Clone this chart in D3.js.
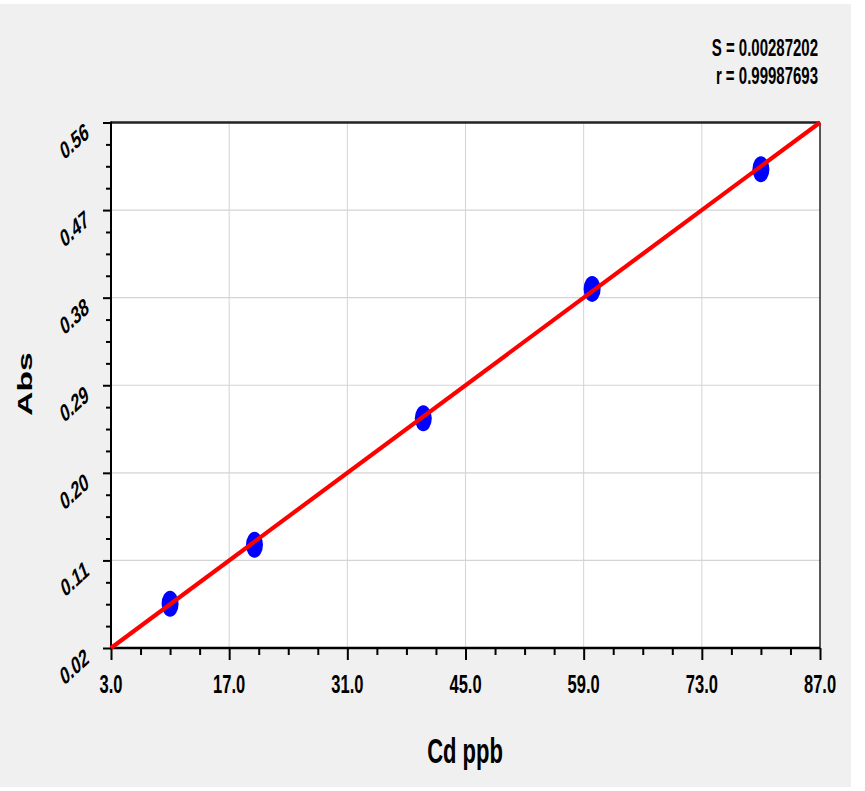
<!DOCTYPE html>
<html>
<head>
<meta charset="utf-8">
<script src="https://cdn.jsdelivr.net/npm/d3@7"></script>
<style>
body { margin: 0; background: #fff; }
text { font-family: "Liberation Sans", Arial, sans-serif; font-weight: bold; }
</style>
</head>
<body>
<script>
// calibration data, Cd standards
var concentrations = [10, 20, 40, 60, 80]
var absorbances = [0.0655, 0.126, 0.256, 0.389, 0.512]
var xTicks = [3, 17, 31, 45, 59, 73, 87]
var yTicks = [0.02, 0.11, 0.20, 0.29, 0.38, 0.47, 0.56]
var fitSlope = 0.0064286
var fitIntercept = 0.000714
var statLines = ["S = 0.00287202", "r = 0.99987693"]

var W = 865, H = 791
var SY = 1.6   // the picture is stretched vertically, text too

var svg = d3.select("body").append("svg")
	.attr("width", W).attr("height", H)

svg.append("rect").attr("x", 0).attr("y", 4).attr("width", 851).attr("height", 783)
	.attr("fill", "#f0f0f0")

// note: "top" is taken by window.top, so plot* names
var plotLeft = 111, plotRight = 820, plotTop = 122.5, plotBottom = 648

var x = d3.scaleLinear().domain([3, 87]).range([plotLeft, plotRight])
var y = d3.scaleLinear().domain([0.02, 0.56]).range([plotBottom, plotTop])

// minor ticks: 3 between each pair of majors
function minors(ticks) {
	var m = []
	for (var i = 0; i < ticks.length - 1; i++) {
		var step = (ticks[i + 1] - ticks[i]) / 4
		for (var j = 1; j < 4; j++) m.push(ticks[i] + j * step)
	}
	return m
}

svg.append("rect").attr("x", plotLeft).attr("y", plotTop)
	.attr("width", plotRight - plotLeft).attr("height", plotBottom - plotTop)
	.attr("fill", "#fff")

// grid
var grid = svg.append("g")
grid.selectAll(".gx").data(xTicks.slice(1, -1)).enter().append("line")
	.attr("x1", d => x(d)).attr("x2", d => x(d))
	.attr("y1", plotTop).attr("y2", plotBottom)
	.attr("stroke", "#d4d4d4").attr("stroke-width", 1)
grid.selectAll(".gy").data(yTicks.slice(1, -1)).enter().append("line")
	.attr("x1", plotLeft).attr("x2", plotRight)
	.attr("y1", d => y(d)).attr("y2", d => y(d))
	.attr("stroke", "#d4d4d4").attr("stroke-width", 1.2)

// axes with ticks only, labels drawn separately
function styleAxis(g) {
	g.select(".domain").remove()
	g.selectAll("text").remove()
	g.selectAll("line").attr("stroke", "#000").attr("stroke-width", 2)
}
svg.append("g").attr("transform", "translate(0," + plotBottom + ")")
	.call(d3.axisBottom(x).tickValues(xTicks).tickSize(12)).call(styleAxis)
svg.append("g").attr("transform", "translate(0," + plotBottom + ")")
	.call(d3.axisBottom(x).tickValues(minors(xTicks)).tickSize(7)).call(styleAxis)
svg.append("g").attr("transform", "translate(" + plotLeft + ",0)")
	.call(d3.axisLeft(y).tickValues(yTicks).tickSize(8)).call(styleAxis)
svg.append("g").attr("transform", "translate(" + plotLeft + ",0)")
	.call(d3.axisLeft(y).tickValues(minors(yTicks)).tickSize(5)).call(styleAxis)

// frame
svg.append("line").attr("x1", plotLeft).attr("x2", plotRight).attr("y1", plotTop).attr("y2", plotTop)
	.attr("stroke", "#222").attr("stroke-width", 2.5)
svg.append("line").attr("x1", plotRight).attr("x2", plotRight).attr("y1", plotTop).attr("y2", plotBottom)
	.attr("stroke", "#222").attr("stroke-width", 1.5)
svg.append("line").attr("x1", plotLeft).attr("x2", plotLeft).attr("y1", plotTop - 1).attr("y2", plotBottom + 1)
	.attr("stroke", "#000").attr("stroke-width", 2)
svg.append("line").attr("x1", plotLeft - 1).attr("x2", plotRight).attr("y1", plotBottom).attr("y2", plotBottom)
	.attr("stroke", "#000").attr("stroke-width", 2.5)

// points
svg.append("g").selectAll("ellipse").data(concentrations).enter().append("ellipse")
	.attr("cx", d => x(d))
	.attr("cy", (d, i) => y(absorbances[i]))
	.attr("rx", 8.5).attr("ry", 13)
	.attr("fill", "#0000ff")

// fitted line
var fitX = [3, 87]
svg.append("path")
	.datum(fitX)
	.attr("d", d3.line().x(d => x(d)).y(d => y(fitIntercept + fitSlope * d)))
	.attr("stroke", "#ff0000").attr("stroke-width", 4.2).attr("fill", "none")

// tick labels
svg.append("g").selectAll("text").data(xTicks).enter().append("text")
	.attr("transform", d => "translate(" + x(d) + ",693) scale(1," + SY + ")")
	.attr("text-anchor", "middle").attr("font-size", 16.5)
	.text(d => d.toFixed(1))

svg.append("g").selectAll("text").data(yTicks).enter().append("text")
	.attr("transform", d => "translate(90," + (y(d) + 14) + ") scale(1," + SY + ") rotate(-30)")
	.attr("text-anchor", "end").attr("font-size", 15.5)
	.text(d => d.toFixed(2))

// axis titles
svg.append("text")
	.attr("transform", "translate(465,763) scale(1," + SY + ")")
	.attr("text-anchor", "middle").attr("font-size", 22)
	.text("Cd ppb")
svg.append("text")
	.attr("transform", "translate(32,384) scale(1," + SY + ") rotate(-90)")
	.attr("text-anchor", "middle").attr("font-size", 21)
	.text("Abs")

// stats
svg.append("g").selectAll("text").data(statLines).enter().append("text")
	.attr("transform", (d, i) => "translate(818," + (56 + i * 28) + ") scale(1," + SY + ")")
	.attr("text-anchor", "end").attr("font-size", 15)
	.text(d => d)
</script>
</body>
</html>
